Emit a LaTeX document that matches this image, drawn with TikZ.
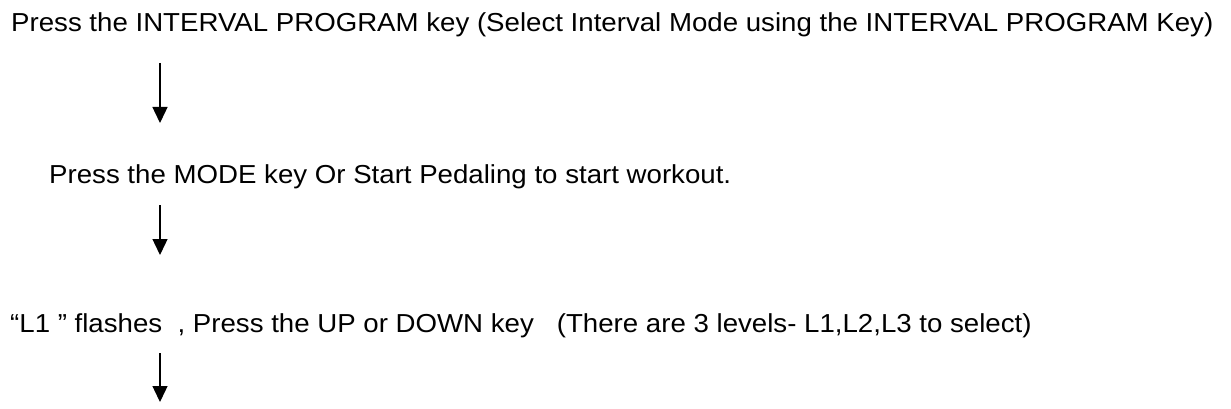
\documentclass[tikz,border=0pt]{standalone}
\usepackage{fontspec}
\setmainfont{Liberation Sans}[FakeStretch=1.063]
\usepackage{tikz}
\usetikzlibrary{arrows.meta, positioning, calc}

\begin{document}
\begin{tikzpicture}[x=1pt, y=-1pt,
    steptext/.style={anchor=base west, inner sep=0pt, font=\fontsize{26}{31}\selectfont},
    flow/.style={-{Triangle[length=16pt, width=15pt]}, line width=1.4pt}]
\useasboundingbox (0,0) rectangle (1231,409);
% Steps
\node[steptext] (press) at (11,32) {Press the INTERVAL PROGRAM key (Select Interval Mode using the INTERVAL PROGRAM Key)};
\node[steptext] (mode) at (49,183) {Press the MODE key Or Start Pedaling to start workout.};
\node[steptext] (level) at (10,332) {“L1 ” flashes\ \ , Press the UP or DOWN key\ \ \ (There are 3 levels- L1,L2,L3 to select)};

% Arrow ends
\coordinate (a1) at (160,63);
\coordinate (b1) at (160,123);
\coordinate (a2) at (160,205);
\coordinate (b2) at (160,255);
\coordinate (a3) at (160,353);
\coordinate (b3) at (160,402);

% Arrows
\draw[flow] (a1) -- (b1);
\draw[flow] (a2) -- (b2);
\draw[flow] (a3) -- (b3);
\end{tikzpicture}
\end{document}
